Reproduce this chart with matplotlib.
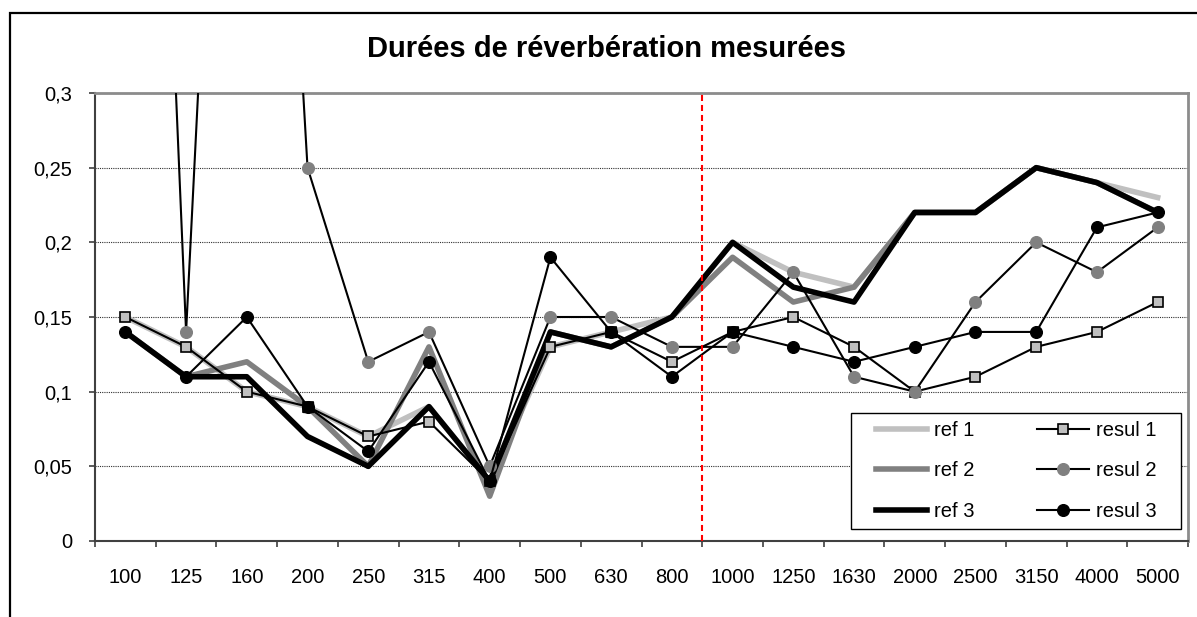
import numpy as np
import matplotlib
matplotlib.use("Agg")
import matplotlib.pyplot as plt
from matplotlib.patches import Rectangle
from matplotlib.ticker import FuncFormatter, MultipleLocator

# third-octave bands (Hz) and measured reverberation times (s)
freqs = ["100", "125", "160", "200", "250", "315", "400", "500", "630", "800",
         "1000", "1250", "1630", "2000", "2500", "3150", "4000", "5000"]

ref_1 = [0.15, 0.13, 0.10, 0.09, 0.07, 0.09, 0.04, 0.13, 0.14, 0.15,
         0.20, 0.18, 0.17, 0.22, 0.22, 0.25, 0.24, 0.23]
ref_2 = [0.14, 0.11, 0.12, 0.09, 0.05, 0.13, 0.03, 0.14, 0.13, 0.15,
         0.19, 0.16, 0.17, 0.22, 0.22, 0.25, 0.24, 0.22]
ref_3 = [0.14, 0.11, 0.11, 0.07, 0.05, 0.09, 0.04, 0.14, 0.13, 0.15,
         0.20, 0.17, 0.16, 0.22, 0.22, 0.25, 0.24, 0.22]
resul_1 = [0.15, 0.13, 0.10, 0.09, 0.07, 0.08, 0.04, 0.13, 0.14, 0.12,
           0.14, 0.15, 0.13, 0.10, 0.11, 0.13, 0.14, 0.16]
resul_2 = [1.10, 0.14, 0.95, 0.25, 0.12, 0.14, 0.05, 0.15, 0.15, 0.13,
           0.13, 0.18, 0.11, 0.10, 0.16, 0.20, 0.18, 0.21]
resul_3 = [0.14, 0.11, 0.15, 0.09, 0.06, 0.12, 0.04, 0.19, 0.14, 0.11,
           0.14, 0.13, 0.12, 0.13, 0.14, 0.14, 0.21, 0.22]

# resul 1 points drawn with a filled black square
resul_1_dark = ["200", "630", "1000"]
# band where the dashed separator sits (left edge)
split_band = "1000"

plt.rcParams["font.family"] = ["Liberation Sans", "DejaVu Sans"]

W, H = 1197, 617
fig = plt.figure(figsize=(W / 100, H / 100), dpi=100)
ax = fig.add_axes([95 / W, 1 - 541 / H, 1093 / W, 448 / H])

# chart area border
fig.patches.append(Rectangle((10 / W, -0.5), 1.5, 0.5 + 1 - 13 / H,
                             transform=fig.transFigure, fill=False,
                             edgecolor="black", linewidth=1.6))

x = np.arange(len(freqs))

h_r1, = ax.plot(x, ref_1, color="#c0c0c0", lw=4, label="ref 1", zorder=3)
h_r2, = ax.plot(x, ref_2, color="#808080", lw=4, label="ref 2", zorder=3)
h_r3, = ax.plot(x, ref_3, color="black", lw=4, label="ref 3", zorder=3)

h_s1, = ax.plot(x, resul_1, color="black", lw=1.5, marker="s", ms=7,
                mfc="#c0c0c0", mec="black", mew=1.2, label="resul 1", zorder=5)
h_s2, = ax.plot(x, resul_2, color="black", lw=1.5, marker="o", ms=8.4,
                mfc="#808080", mec="#808080", label="resul 2", zorder=5)
h_s3, = ax.plot(x, resul_3, color="black", lw=1.5, marker="o", ms=8.4,
                mfc="black", mec="black", label="resul 3", zorder=5)

dark_idx = [freqs.index(f) for f in resul_1_dark]
ax.plot(dark_idx, [resul_1[i] for i in dark_idx], ls="none", marker="s",
        ms=7, color="black", zorder=6)

ax.axvline(freqs.index(split_band) - 0.5, color="red", lw=1.5,
           ls=(0, (2.9, 1.9)), zorder=10)

# axes
ax.set_xlim(-0.5, len(freqs) - 0.5)
ax.set_ylim(0, 0.3)
ax.yaxis.set_major_locator(MultipleLocator(0.05))
ax.yaxis.set_major_formatter(FuncFormatter(lambda v, _: f"{v:g}".replace(".", ",")))
ax.yaxis.grid(True, ls=(0, (1, 1)), color="#303030", lw=0.8)
ax.set_axisbelow(True)

ax.set_xticks(x)
ax.set_xticklabels(freqs)
ax.set_xticks(np.arange(-0.5, len(freqs)), minor=True)
ax.tick_params(axis="x", which="major", length=0, pad=19.5, labelsize=14.5)
ax.tick_params(axis="x", which="minor", length=4.3, width=1.2, color="#404040")
ax.tick_params(axis="y", length=4.3, width=1.2, color="#404040", pad=12,
               labelsize=14.5)

for side in ("left", "bottom"):
    ax.spines[side].set_color("#404040")
    ax.spines[side].set_linewidth(1.5)
for side in ("top", "right"):
    ax.spines[side].set_color("#8c8c8c")
    ax.spines[side].set_linewidth(2)

# legend box, drawn apart so the entries can sit inset from its edge
box = (0.6917, 0.0268, 0.302, 0.2589)
ax.add_patch(Rectangle(box[:2], box[2], box[3], transform=ax.transAxes,
                       facecolor="white", edgecolor="black", linewidth=1.0,
                       zorder=19, clip_on=False))
leg = ax.legend([h_r1, h_r2, h_r3, h_s1, h_s2, h_s3],
                ["ref 1", "ref 2", "ref 3", "resul 1", "resul 2", "resul 3"],
                ncol=2, loc="center",
                bbox_to_anchor=(box[0] + box[2] / 2, box[1] + box[3] / 2),
                frameon=False, fontsize=14.5, handlelength=2.55,
                handletextpad=0.35, columnspacing=3.1, labelspacing=1.05,
                borderaxespad=0, numpoints=1)
leg.set_zorder(20)

fig.text(0.507, 0.92, "Durées de réverbération mesurées", ha="center",
         va="center", fontsize=21, fontweight="bold")

fig.savefig("out.png", dpi=100)
